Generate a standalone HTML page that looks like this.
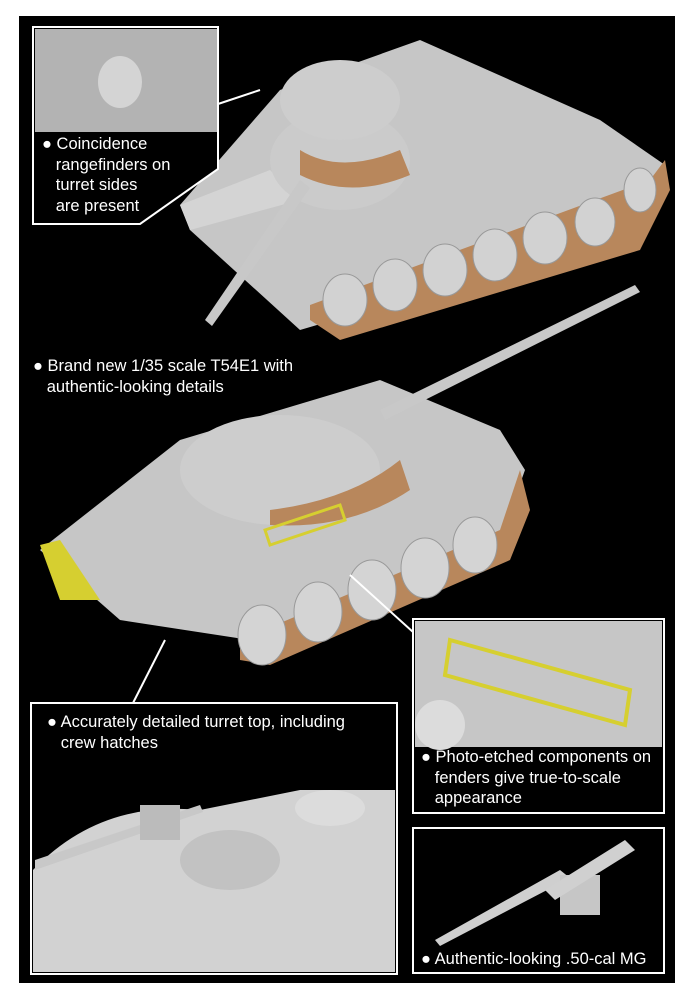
<!DOCTYPE html>
<html><head><meta charset="utf-8"><style>
body{margin:0;width:694px;height:1000px;background:#fff;overflow:hidden;font-family:"Liberation Sans",Arial,sans-serif}
.t{position:absolute;color:#fff;font-size:16.5px;line-height:20.5px}
</style></head><body>
<svg width="694" height="1000" style="position:absolute;left:0;top:0">
<rect x="19" y="16" width="656" height="967" fill="#000"/>
<!-- top tank -->
<polygon points="300,330 640,230 665,165 600,120 420,40 280,90 180,205 190,230" fill="#c6c6c6"/>
<polygon points="180,205 270,170 300,200 190,230" fill="#d4d4d4"/>
<polygon points="310,305 650,180 665,160 670,190 640,250 340,340 310,320" fill="#b8875c"/>
<g fill="#d2d2d2" stroke="#999">
<ellipse cx="345" cy="300" rx="22" ry="26"/><ellipse cx="395" cy="285" rx="22" ry="26"/><ellipse cx="445" cy="270" rx="22" ry="26"/><ellipse cx="495" cy="255" rx="22" ry="26"/><ellipse cx="545" cy="238" rx="22" ry="26"/><ellipse cx="595" cy="222" rx="20" ry="24"/><ellipse cx="640" cy="190" rx="16" ry="22"/></g>
<ellipse cx="340" cy="160" rx="70" ry="50" fill="#cbcbcb"/>
<ellipse cx="340" cy="100" rx="60" ry="40" fill="#cdcdcd"/>
<path d="M300 150 Q340 175 400 150 L410 175 Q350 200 300 175Z" fill="#b8875c"/>
<polygon points="205,320 300,180 310,188 212,326" fill="#c8c8c8"/>
<!-- middle tank -->
<polygon points="40,550 180,440 380,380 500,430 525,470 500,540 250,640 120,620" fill="#c6c6c6"/>
<polygon points="40,545 60,540 100,600 60,600" fill="#d6cf30"/>
<polygon points="240,640 500,530 520,470 530,510 510,560 270,665 240,660" fill="#b8875c"/>
<g fill="#d4d4d4" stroke="#999">
<ellipse cx="262" cy="635" rx="24" ry="30"/><ellipse cx="318" cy="612" rx="24" ry="30"/><ellipse cx="372" cy="590" rx="24" ry="30"/><ellipse cx="425" cy="568" rx="24" ry="30"/><ellipse cx="475" cy="545" rx="22" ry="28"/></g>
<ellipse cx="280" cy="470" rx="100" ry="55" fill="#cdcdcd"/>
<path d="M270 510 Q350 500 400 460 L410 490 Q350 530 270 525Z" fill="#b8875c"/>
<polygon points="380,410 635,285 640,292 385,420" fill="#c8c8c8"/>
<polygon points="265,530 340,505 345,520 270,545" fill="none" stroke="#d6cf30" stroke-width="3"/>
<!-- connectors -->
<line x1="218" y1="104" x2="260" y2="90" stroke="#fff" stroke-width="2"/>
<line x1="133" y1="703" x2="165" y2="640" stroke="#fff" stroke-width="2"/>
<line x1="413" y1="632" x2="350" y2="575" stroke="#fff" stroke-width="2"/>
<!-- box1 -->
<polygon points="33,27 218,27 218,169 140,224 33,224" fill="#000" stroke="#fff" stroke-width="2"/>
<rect x="35" y="29" width="182" height="103" fill="#b3b3b3"/>
<ellipse cx="120" cy="82" rx="22" ry="26" fill="#d4d4d4"/>
<!-- box bottom-left -->
<rect x="31" y="703" width="366" height="271" fill="#000" stroke="#fff" stroke-width="2"/>
<path d="M33 870 Q100 800 200 810 L300 790 L395 790 L395 972 L33 972Z" fill="#d2d2d2"/>
<ellipse cx="330" cy="808" rx="35" ry="18" fill="#dcdcdc"/>
<ellipse cx="230" cy="860" rx="50" ry="30" fill="#c2c2c2"/>
<polygon points="35,860 200,805 203,812 35,870" fill="#c8c8c8"/>
<rect x="140" y="805" width="40" height="35" fill="#bbb"/>
<!-- box right -->
<rect x="413" y="619" width="251" height="194" fill="#000" stroke="#fff" stroke-width="2"/>
<rect x="415" y="621" width="247" height="126" fill="#c6c6c6"/>
<polygon points="450,640 630,690 625,725 445,675" fill="none" stroke="#d6cf30" stroke-width="4"/>
<ellipse cx="440" cy="725" rx="25" ry="25" fill="#dcdcdc"/>
<!-- box bottom-right -->
<rect x="413" y="828" width="251" height="145" fill="#000" stroke="#fff" stroke-width="2"/>
<polygon points="435,940 560,870 570,878 440,946" fill="#cfcfcf"/>
<rect x="560" y="875" width="40" height="40" fill="#c6c6c6"/>
<polygon points="545,890 625,840 635,850 555,900" fill="#d0d0d0"/>
</svg>
<div class="t" style="left:42px;top:134px">● Coincidence<br>&nbsp;&nbsp;&nbsp;rangefinders on<br>&nbsp;&nbsp;&nbsp;turret sides<br>&nbsp;&nbsp;&nbsp;are present</div>
<div class="t" style="left:33px;top:356px">● Brand new 1/35 scale T54E1 with<br>&nbsp;&nbsp;&nbsp;authentic-looking details</div>
<div class="t" style="left:47px;top:712px">● Accurately detailed turret top, including<br>&nbsp;&nbsp;&nbsp;crew hatches</div>
<div class="t" style="left:421px;top:747px">● Photo-etched components on<br>&nbsp;&nbsp;&nbsp;fenders give true-to-scale<br>&nbsp;&nbsp;&nbsp;appearance</div>
<div class="t" style="left:421px;top:949px">● Authentic-looking .50-cal MG</div>
</body></html>
